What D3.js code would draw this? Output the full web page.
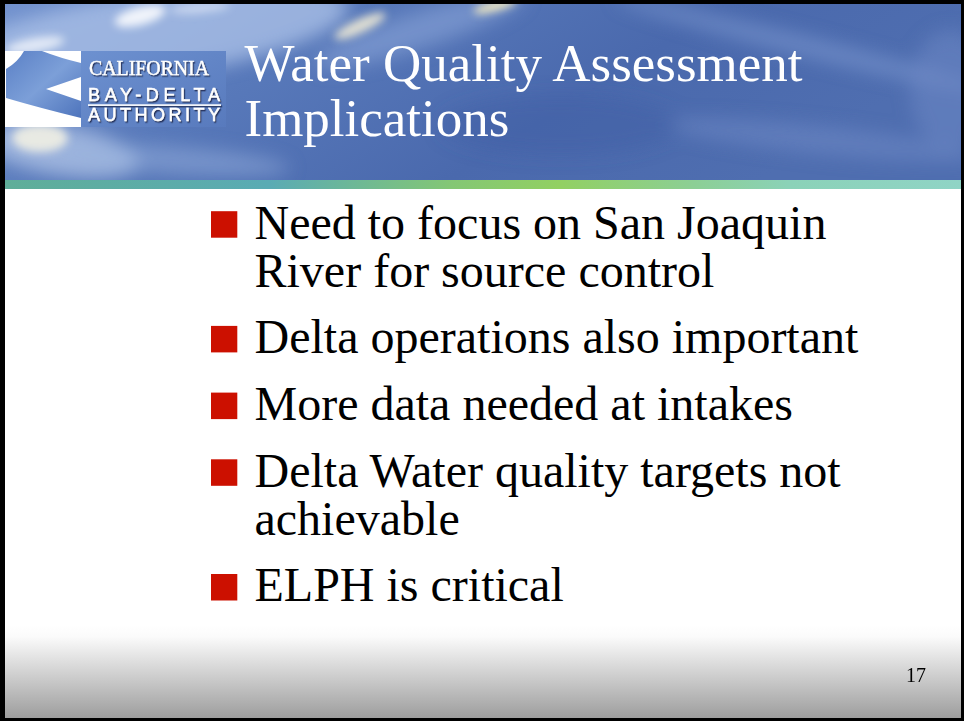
<!DOCTYPE html>
<html>
<head>
<meta charset="utf-8">
<script src="https://cdn.jsdelivr.net/npm/d3@7"></script>
<style>
  html, body { margin: 0; padding: 0; background: #ffffff; }
  svg { display: block; }
</style>
</head>
<body>
<div id="slide"></div>
<script>
// ---------- content ----------
const titleLines = ["Water Quality Assessment", "Implications"];
const bulletItems = [
  ["Need to focus on San Joaquin", "River for source control"],
  ["Delta operations also important"],
  ["More data needed at intakes"],
  ["Delta Water quality targets not", "achievable"],
  ["ELPH is critical"]
];
const logoWords = ["CALIFORNIA", "BAY-DELTA", "AUTHORITY"];
const pageNumber = "17";
const bandStops = [
  [0.00, "#5fae98"], [0.28, "#5aabb4"], [0.47, "#84c774"],
  [0.58, "#92d062"], [0.72, "#8ccf95"], [0.82, "#8bd2b8"], [1.00, "#90d4c6"]
];

// ---------- layout ----------
const W = 964, H = 721;
const serif = "'Liberation Serif', 'Times New Roman', Times, serif";
const sans = "'Liberation Sans', Arial, Helvetica, sans-serif";

const svg = d3.select("#slide").append("svg")
  .attr("width", W).attr("height", H)
  .attr("viewBox", `0 0 ${W} ${H}`);

const defs = svg.append("defs");

// header base gradient
const hg = defs.append("linearGradient").attr("id", "hdr")
  .attr("x1", 0).attr("y1", 0).attr("x2", 1).attr("y2", 0.3);
hg.append("stop").attr("offset", 0).attr("stop-color", "#7393cf");
hg.append("stop").attr("offset", 0.35).attr("stop-color", "#5879ba");
hg.append("stop").attr("offset", 0.7).attr("stop-color", "#4a69ad");
hg.append("stop").attr("offset", 1).attr("stop-color", "#4f6eb0");

// band gradient
const bg = defs.append("linearGradient").attr("id", "band")
  .attr("x1", 0).attr("y1", 0).attr("x2", 1).attr("y2", 0);
bandStops.forEach(s => bg.append("stop").attr("offset", s[0]).attr("stop-color", s[1]));

// footer gradient
const fg = defs.append("linearGradient").attr("id", "foot")
  .attr("x1", 0).attr("y1", 0).attr("x2", 0).attr("y2", 1);
fg.append("stop").attr("offset", 0).attr("stop-color", "#ffffff");
fg.append("stop").attr("offset", 0.12).attr("stop-color", "#fbfbfb");
fg.append("stop").attr("offset", 1).attr("stop-color", "#9a9a9a");

// logo box gradient
const lg = defs.append("linearGradient").attr("id", "logo")
  .attr("x1", 0).attr("y1", 0).attr("x2", 1).attr("y2", 1);
lg.append("stop").attr("offset", 0).attr("stop-color", "#6d91d0");
lg.append("stop").attr("offset", 1).attr("stop-color", "#587abd");

const chev = defs.append("linearGradient").attr("id", "chev")
  .attr("x1", 0).attr("y1", 0).attr("x2", 1).attr("y2", 1);
chev.append("stop").attr("offset", 0).attr("stop-color", "#5a80c6");
chev.append("stop").attr("offset", 0.5).attr("stop-color", "#7c9fd8");
chev.append("stop").attr("offset", 1).attr("stop-color", "#4e74bc");

const blur = defs.append("filter").attr("id", "blur")
  .attr("x", "-50%").attr("y", "-50%").attr("width", "200%").attr("height", "200%");
blur.append("feGaussianBlur").attr("stdDeviation", 9);
const blurS = defs.append("filter").attr("id", "blurS")
  .attr("x", "-50%").attr("y", "-50%").attr("width", "200%").attr("height", "200%");
blurS.append("feGaussianBlur").attr("stdDeviation", 4);

const shadow = defs.append("filter").attr("id", "tshadow")
  .attr("x", "-10%").attr("y", "-30%").attr("width", "130%").attr("height", "160%");
shadow.append("feDropShadow").attr("dx", 1.2).attr("dy", 1.4)
  .attr("stdDeviation", 0.7).attr("flood-color", "#1a2950").attr("flood-opacity", 0.9);

const clip = defs.append("clipPath").attr("id", "hclip");
clip.append("rect").attr("x", 0).attr("y", 0).attr("width", W).attr("height", 180);

// ---------- background ----------
svg.append("rect").attr("width", W).attr("height", H).attr("fill", "#ffffff");
svg.append("rect").attr("x", 0).attr("y", 625).attr("width", W).attr("height", H - 625)
  .attr("fill", "url(#foot)");

// header photo imitation
const hdr = svg.append("g").attr("clip-path", "url(#hclip)");
hdr.append("rect").attr("width", W).attr("height", 180).attr("fill", "url(#hdr)");

const glow = hdr.append("g").attr("filter", "url(#blur)");
const soft = [
  // [cx, cy, rx, ry, rot, color, opacity]
  [150, 35, 200, 42, -8, "#adc3e8", 0.75],
  [60, 150, 80, 25, 10, "#b8cbea", 0.7],
  [170, 160, 120, 14, 4, "#98b1de", 0.5],
  [420, 30, 110, 18, -18, "#8ea8da", 0.55],
  [800, 45, 190, 10, 14, "#7f9ad2", 0.55],
  [820, 140, 160, 14, 6, "#6f8cc8", 0.5],
  [560, 125, 120, 30, 0, "#3f5ea3", 0.45],
  [950, 90, 40, 60, 0, "#6d8ac6", 0.5]
];
glow.selectAll("ellipse").data(soft).join("ellipse")
  .attr("cx", d => d[0]).attr("cy", d => d[1]).attr("rx", d => d[2]).attr("ry", d => d[3])
  .attr("transform", d => `rotate(${d[4]},${d[0]},${d[1]})`)
  .attr("fill", d => d[5]).attr("opacity", d => d[6]);

const hl = hdr.append("g").attr("filter", "url(#blurS)");
const highlights = [
  [140, 16, 26, 9, -15, "#ffffff", 0.85],
  [35, 45, 30, 7, -10, "#ffffff", 0.7],
  [360, 26, 28, 7, -25, "#fff6d8", 0.8],
  [495, 6, 22, 5, -15, "#fff3c0", 0.9],
  [40, 138, 28, 14, 0, "#f6f3e4", 0.85],
  [200, 8, 30, 5, -5, "#e8eefa", 0.6]
];
hl.selectAll("ellipse").data(highlights).join("ellipse")
  .attr("cx", d => d[0]).attr("cy", d => d[1]).attr("rx", d => d[2]).attr("ry", d => d[3])
  .attr("transform", d => `rotate(${d[4]},${d[0]},${d[1]})`)
  .attr("fill", d => d[5]).attr("opacity", d => d[6]);

// colour band
svg.append("rect").attr("x", 0).attr("y", 180).attr("width", W).attr("height", 9)
  .attr("fill", "url(#band)");

// ---------- logo ----------
const logo = svg.append("g");
logo.append("rect").attr("x", 5).attr("y", 51).attr("width", 76).attr("height", 76).attr("fill", "#ffffff");
logo.append("path")
  .attr("d", "M24,51 L42,51 Q60,58 81,63 L81,77 L46,89 L81,101 L81,118 Q40,108 6,98 L6,69 Q18,62 24,51 Z")
  .attr("fill", "url(#chev)");
logo.append("rect").attr("x", 81).attr("y", 51).attr("width", 145).attr("height", 76)
  .attr("fill", "url(#logo)");

const lw = logo.append("g").attr("fill", "#ffffff").attr("filter", "url(#tshadow)");
lw.append("text").attr("x", 89).attr("y", 74.5)
  .attr("font-family", serif).attr("font-size", 20.5)
  .attr("stroke", "#ffffff").attr("stroke-width", 0.35)
  .attr("textLength", 120).attr("lengthAdjust", "spacingAndGlyphs")
  .text(logoWords[0]);
lw.append("text").attr("x", 88).attr("y", 101)
  .attr("font-family", sans).attr("font-size", 18)
  .attr("stroke", "#ffffff").attr("stroke-width", 0.5)
  .attr("textLength", 132).attr("lengthAdjust", "spacing")
  .text(logoWords[1]);
lw.append("rect").attr("x", 88).attr("y", 104.3).attr("width", 133).attr("height", 1.6);
lw.append("text").attr("x", 88).attr("y", 121)
  .attr("font-family", sans).attr("font-size", 18)
  .attr("stroke", "#ffffff").attr("stroke-width", 0.5)
  .attr("textLength", 132).attr("lengthAdjust", "spacing")
  .text(logoWords[2]);

// ---------- title ----------
const titleY = d3.scaleLinear().domain([0, 1]).range([81, 136]);
svg.append("g").selectAll("text").data(titleLines).join("text")
  .attr("x", 244.5).attr("y", (d, i) => titleY(i))
  .attr("font-family", serif).attr("font-size", 53).attr("fill", "#ffffff")
  .text(d => d);

// ---------- bullets ----------
// baseline positions: 48px per wrapped line, 66.7px between bullets
const lineStep = 48, bulletStep = 66.7;
let acc = 0;
const layout = bulletItems.map((lines, i) => {
  const start = acc;
  acc += (lines.length - 1) * lineStep + bulletStep;
  return { lines, start };
});
const firstBaseline = 238.5;

const bl = svg.append("g");
const item = bl.selectAll("g.item").data(layout).join("g").attr("class", "item")
  .attr("transform", d => `translate(0,${firstBaseline + d.start})`);
item.append("rect")
  .attr("x", 211).attr("y", -27.3).attr("width", 26.3).attr("height", 26.5)
  .attr("fill", "#cc1000");
item.selectAll("text").data(d => d.lines).join("text")
  .attr("x", 254.5).attr("y", (d, i) => i * lineStep)
  .attr("font-family", serif).attr("font-size", 48).attr("fill", "#000000")
  .text(d => d);

// page number
svg.append("text").attr("x", 906).attr("y", 682)
  .attr("font-family", serif).attr("font-size", 20).attr("fill", "#000000")
  .text(pageNumber);

// ---------- border ----------
const border = svg.append("g").attr("fill", "#000000");
border.append("rect").attr("x", 0).attr("y", 0).attr("width", 5).attr("height", H);
border.append("rect").attr("x", 0).attr("y", 0).attr("width", W).attr("height", 4);
border.append("rect").attr("x", W - 3).attr("y", 0).attr("width", 3).attr("height", H);
border.append("rect").attr("x", 0).attr("y", H - 3).attr("width", W).attr("height", 3);
</script>
</body>
</html>
